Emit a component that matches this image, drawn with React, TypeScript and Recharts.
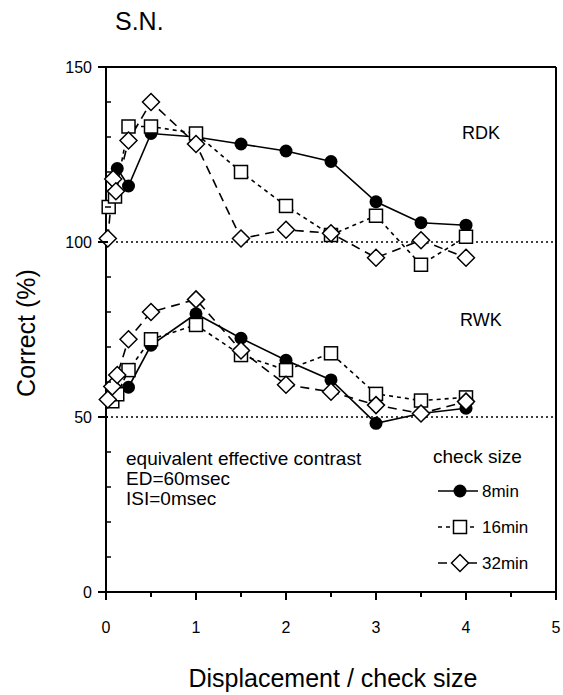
import { LineChart, Line, XAxis, YAxis, ReferenceLine } from 'recharts';

// RDK, check size 8 / 16 / 32 min
const rdk8X = [0.125, 0.25, 0.5, 1, 1.5, 2, 2.5, 3, 3.5, 4];
const rdk8Y = [121, 116, 131, 130, 128, 126, 123, 111.5, 105.5, 104.8];
const rdk16X = [0.03, 0.1, 0.25, 0.5, 1, 1.5, 2, 2.5, 3, 3.5, 4];
const rdk16Y = [110, 113, 133, 133, 131, 120, 110.3, 102, 107.5, 93.5, 101.5];
const rdk32X = [0.02, 0.08, 0.11, 0.25, 0.5, 1, 1.5, 2, 2.5, 3, 3.5, 4];
const rdk32Y = [101, 118, 114.5, 129, 140, 128, 101, 103.5, 102.5, 95.5, 100.5, 95.5];

// RWK, check size 8 / 16 / 32 min
const rwk8X = [0.25, 0.5, 1, 1.5, 2, 2.5, 3, 3.5, 4];
const rwk8Y = [58.5, 70.5, 79.5, 72.5, 66.2, 60.6, 48.2, 51, 52.5];
const rwk16X = [0.07, 0.125, 0.25, 0.5, 1, 1.5, 2, 2.5, 3, 3.5, 4];
const rwk16Y = [54.5, 56.5, 63.4, 72.2, 76.3, 67.7, 63.4, 68.2, 56.6, 54.7, 55.6];
const rwk32X = [0.02, 0.07, 0.125, 0.25, 0.5, 1, 1.5, 2, 2.5, 3, 3.5, 4];
const rwk32Y = [55, 58.7, 62, 72.2, 80, 83.6, 69, 59.2, 57.2, 53.4, 51, 54.4];

const xTicks = [0, 0.5, 1, 1.5, 2, 2.5, 3, 3.5, 4, 4.5, 5];
const yTicks = [0, 10, 20, 30, 40, 50, 60, 70, 80, 90, 100, 110, 120, 130, 140, 150];
const yLabels = [0, 50, 100, 150];

const legendItems = [
  { label: '8min', shape: 'circle', dash: undefined },
  { label: '16min', shape: 'square', dash: '4 4' },
  { label: '32min', shape: 'diamond', dash: '9 6' },
];

const FONT = '"Liberation Sans", Arial, Helvetica, sans-serif';

const zip = (xs: number[], ys: number[]) => xs.map((x, i) => ({ x, y: ys[i] }));

const Marker = ({ shape, cx, cy }: { shape: string; cx: number; cy: number }) => {
  if (shape === 'circle') return <circle cx={cx} cy={cy} r={6.5} fill="#000" />;
  if (shape === 'square')
    return <rect x={cx - 6.5} y={cy - 6.5} width={13} height={13} fill="#fff" stroke="#000" strokeWidth={1.5} />;
  return (
    <polygon
      points={`${cx},${cy - 8.5} ${cx + 8.5},${cy} ${cx},${cy + 8.5} ${cx - 8.5},${cy}`}
      fill="#fff"
      stroke="#000"
      strokeWidth={1.5}
    />
  );
};

const dotFor = (shape: string, id: string) => (props: any) => (
  <g key={`${id}-${props.index}`}>
    <Marker shape={shape} cx={props.cx} cy={props.cy} />
  </g>
);

const XTick = ({ x, y, payload }: any) => {
  const major = Number.isInteger(payload.value);
  return (
    <g>
      <line x1={x} y1={y} x2={x} y2={y + (major ? 8 : 5)} stroke="#000" strokeWidth={2} />
      {major && (
        <text x={x} y={y + 41} textAnchor="middle" fontSize={16} fill="#000" fontFamily={FONT}>
          {payload.value}
        </text>
      )}
    </g>
  );
};

const YTick = ({ x, y, payload }: any) => {
  const major = yLabels.includes(payload.value);
  return (
    <g>
      {major ? (
        <line x1={x - 8} y1={y} x2={x + 2} y2={y} stroke="#000" strokeWidth={2} />
      ) : (
        <line x1={x - 1} y1={y} x2={x + 5} y2={y} stroke="#000" strokeWidth={1.5} />
      )}
      {major && (
        <text x={x - 14} y={y + 5.5} textAnchor="end" fontSize={16} fill="#000" fontFamily={FONT}>
          {payload.value}
        </text>
      )}
    </g>
  );
};

const series = [
  { id: 'rdk8', data: zip(rdk8X, rdk8Y), shape: 'circle', dash: undefined },
  { id: 'rwk8', data: zip(rwk8X, rwk8Y), shape: 'circle', dash: undefined },
  { id: 'rdk16', data: zip(rdk16X, rdk16Y), shape: 'square', dash: '4 4' },
  { id: 'rwk16', data: zip(rwk16X, rwk16Y), shape: 'square', dash: '4 4' },
  { id: 'rdk32', data: zip(rdk32X, rdk32Y), shape: 'diamond', dash: '9 6' },
  { id: 'rwk32', data: zip(rwk32X, rwk32Y), shape: 'diamond', dash: '9 6' },
];

export default function App() {
  return (
    <div style={{ position: 'absolute', left: 0, top: 0, width: 563, height: 695, background: '#fff', fontFamily: FONT }}>
      <LineChart width={563} height={695} margin={{ top: 67, right: 7, bottom: 0, left: 0 }}>
        <XAxis
          type="number"
          dataKey="x"
          domain={[0, 5]}
          ticks={xTicks}
          interval={0}
          height={103}
          tickSize={0}
          tickMargin={0}
          tickLine={false}
          axisLine={{ stroke: '#000', strokeWidth: 2 }}
          tick={<XTick />}
          allowDuplicatedCategory={false}
        />
        <YAxis
          type="number"
          dataKey="y"
          domain={[0, 150]}
          ticks={yTicks}
          interval={0}
          width={106}
          tickSize={0}
          tickMargin={0}
          tickLine={false}
          axisLine={{ stroke: '#000', strokeWidth: 2 }}
          tick={<YTick />}
        />
        <ReferenceLine y={150} stroke="#000" strokeWidth={2} />
        <ReferenceLine x={5} stroke="#000" strokeWidth={2} />
        <ReferenceLine y={100} stroke="#000" strokeWidth={1.5} strokeDasharray="2 3" />
        <ReferenceLine y={50} stroke="#000" strokeWidth={1.5} strokeDasharray="2 3" />
        {series.map((s) => (
          <Line
            key={s.id}
            data={s.data}
            dataKey="y"
            type="linear"
            stroke="#000"
            strokeWidth={1.6}
            strokeDasharray={s.dash}
            dot={dotFor(s.shape, s.id)}
            activeDot={false}
            isAnimationActive={false}
          />
        ))}
      </LineChart>
      <svg
        width={563}
        height={695}
        style={{ position: 'absolute', left: 0, top: 0, pointerEvents: 'none' }}
        fontFamily={FONT}
        fill="#000"
      >
        <text x={115} y={30} fontSize={25}>S.N.</text>
        <text x={35} y={333} fontSize={25} textAnchor="middle" transform="rotate(-90 35 333)">
          Correct (%)
        </text>
        <text x={333} y={687} fontSize={25} textAnchor="middle">Displacement / check size</text>
        <text x={462} y={139} fontSize={18}>RDK</text>
        <text x={460} y={326} fontSize={18}>RWK</text>
        <text x={126} y={465} fontSize={19}>equivalent effective contrast</text>
        <text x={126} y={485} fontSize={19}>ED=60msec</text>
        <text x={126} y={505} fontSize={19}>ISI=0msec</text>
        <text x={433} y={463} fontSize={19}>check size</text>
        {legendItems.map((item, i) => {
          const cy = 491 + i * 36;
          return (
            <g key={item.label}>
              <line x1={438} y1={cy} x2={478} y2={cy} stroke="#000" strokeWidth={1.6} strokeDasharray={item.dash} />
              <Marker shape={item.shape} cx={460} cy={cy} />
              <text x={482} y={cy + 5.5} fontSize={17}>{item.label}</text>
            </g>
          );
        })}
      </svg>
    </div>
  );
}
